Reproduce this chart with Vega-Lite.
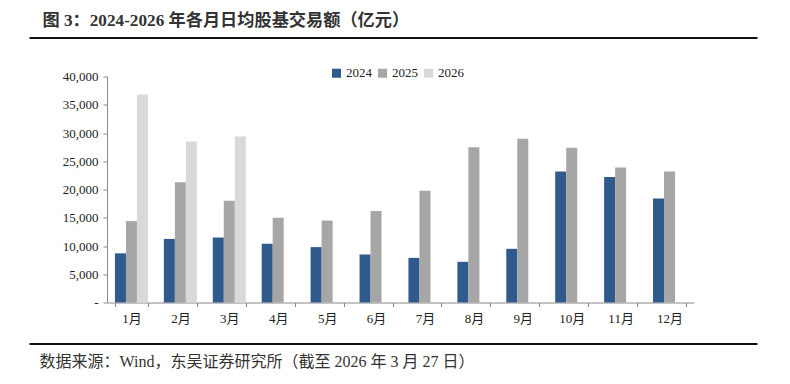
{
  "$schema": "https://vega.github.io/schema/vega-lite/v6.json",
  "autosize": {"type": "none"},
  "padding": {"left": 107, "top": 76.5, "right": 96, "bottom": 81},
  "width": 587,
  "height": 226,
  "background": "white",
  "config": {
    "view": {"stroke": null},
    "font": "Liberation Serif, Noto Sans CJK SC"
  },
  "data": {
    "values": [
      {"month": "1月", "year": "2024", "value": 8700},
      {"month": "1月", "year": "2025", "value": 14400},
      {"month": "1月", "year": "2026", "value": 36800},
      {"month": "2月", "year": "2024", "value": 11250},
      {"month": "2月", "year": "2025", "value": 21300},
      {"month": "2月", "year": "2026", "value": 28500},
      {"month": "3月", "year": "2024", "value": 11500},
      {"month": "3月", "year": "2025", "value": 18000},
      {"month": "3月", "year": "2026", "value": 29400},
      {"month": "4月", "year": "2024", "value": 10400},
      {"month": "4月", "year": "2025", "value": 15000},
      {"month": "5月", "year": "2024", "value": 9800},
      {"month": "5月", "year": "2025", "value": 14500},
      {"month": "6月", "year": "2024", "value": 8500},
      {"month": "6月", "year": "2025", "value": 16200},
      {"month": "7月", "year": "2024", "value": 7900},
      {"month": "7月", "year": "2025", "value": 19800},
      {"month": "8月", "year": "2024", "value": 7200},
      {"month": "8月", "year": "2025", "value": 27500},
      {"month": "9月", "year": "2024", "value": 9500},
      {"month": "9月", "year": "2025", "value": 29000},
      {"month": "10月", "year": "2024", "value": 23200},
      {"month": "10月", "year": "2025", "value": 27400},
      {"month": "11月", "year": "2024", "value": 22200},
      {"month": "11月", "year": "2025", "value": 23900},
      {"month": "12月", "year": "2024", "value": 18400},
      {"month": "12月", "year": "2025", "value": 23200}
    ]
  },
  "layer": [
    {
      "mark": {"type": "bar"},
      "encoding": {
        "x": {
          "field": "month",
          "type": "nominal",
          "sort": ["1月", "2月", "3月", "4月", "5月", "6月", "7月", "8月", "9月", "10月", "11月", "12月"],
          "scale": {"paddingInner": 0.325, "paddingOuter": 0.1625},
          "axis": {
            "title": null,
            "labelAngle": 0,
            "labelFont": "Liberation Serif, Noto Sans CJK SC",
            "labelFontSize": 13,
            "labelColor": "#222222",
            "labelPadding": 6,
            "tickBand": "extent",
            "tickSize": 4,
            "tickColor": "#888888",
            "domainColor": "#888888",
            "domainWidth": 1,
            "grid": false
          }
        },
        "xOffset": {
          "field": "year",
          "type": "nominal",
          "scale": {"domain": ["2024", "2025", "2026"], "paddingInner": 0, "paddingOuter": 0}
        },
        "y": {
          "field": "value",
          "type": "quantitative",
          "scale": {"domain": [0, 40000], "nice": false},
          "axis": {
            "title": null,
            "values": [0, 5000, 10000, 15000, 20000, 25000, 30000, 35000, 40000],
            "labelExpr": "datum.value == 0 ? '-' : format(datum.value, ',')",
            "labelFont": "Liberation Serif",
            "labelFontSize": 13,
            "labelColor": "#222222",
            "labelPadding": 5,
            "tickSize": 4,
            "tickColor": "#888888",
            "domainColor": "#888888",
            "grid": false
          }
        },
        "color": {
          "field": "year",
          "type": "nominal",
          "scale": {"domain": ["2024", "2025", "2026"], "range": ["#305a8c", "#a6a6a6", "#d9d9d9"]},
          "legend": {
            "title": null,
            "orient": "none",
            "direction": "horizontal",
            "legendX": 223,
            "legendY": -10,
            "symbolType": "square",
            "symbolSize": 81,
            "symbolStrokeWidth": 0,
            "labelFont": "Liberation Serif",
            "labelFontSize": 13,
            "labelColor": "#222222",
            "labelOffset": 3,
            "columnPadding": 4
          }
        }
      }
    },
    {
      "data": {"values": [{"anchor": 0}]},
      "mark": {"type": "rule", "opacity": 0},
      "encoding": {
        "x": {
          "field": "anchor",
          "type": "quantitative",
          "scale": {"domain": [0, 1], "range": [-78, 650]},
          "axis": {
            "orient": "top",
            "offset": 39,
            "domain": true,
            "domainColor": "#111111",
            "domainWidth": 2,
            "ticks": false,
            "labels": false,
            "grid": false,
            "title": "图 3：2024-2026 年各月日均股基交易额（亿元）",
            "titleFont": "Liberation Serif, Noto Sans CJK SC",
            "titleFontSize": 17.2,
            "titleFontWeight": "bold",
            "titleColor": "#333333",
            "titleX": -65,
            "titleY": -17.5,
            "titleAlign": "left",
            "titleBaseline": "middle",
            "titleAngle": 0
          }
        }
      }
    },
    {
      "data": {"values": [{"anchor": 0}]},
      "mark": {"type": "rule", "opacity": 0},
      "encoding": {
        "x": {
          "field": "anchor",
          "type": "quantitative",
          "scale": {"domain": [0, 1], "range": [-78, 650]},
          "axis": {
            "orient": "bottom",
            "offset": 41,
            "domain": true,
            "domainColor": "#111111",
            "domainWidth": 2,
            "ticks": false,
            "labels": false,
            "grid": false,
            "title": "数据来源：Wind，东吴证券研究所（截至 2026 年 3 月 27 日）",
            "titleFont": "Liberation Serif, Noto Sans CJK SC",
            "titleFontSize": 16,
            "titleFontWeight": "normal",
            "titleColor": "#333333",
            "titleX": -68,
            "titleY": 17.5,
            "titleAlign": "left",
            "titleBaseline": "middle",
            "titleAngle": 0
          }
        }
      }
    }
  ],
  "resolve": {"scale": {"x": "independent"}, "axis": {"x": "independent"}}
}
